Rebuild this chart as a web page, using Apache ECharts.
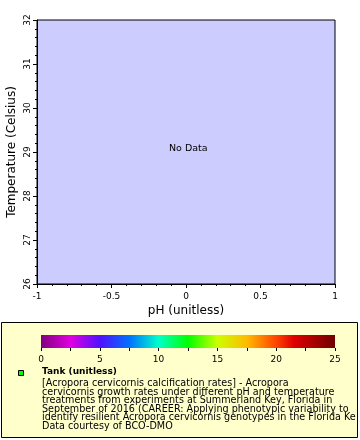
<!DOCTYPE html>
<html>
<head>
<meta charset="utf-8">
<script src="https://cdn.jsdelivr.net/npm/echarts@6/dist/echarts.min.js"></script>
<style>html,body{margin:0;padding:0;background:#fff}#c{width:360px;height:440px}</style>
</head>
<body>
<div id="c"></div>
<script>
// Data (no data points in this chart)
var xRange = [-1, 1];
var yRange = [26, 32];
var pointsX = [];
var pointsY = [];
var colorTicks = [0, 5, 10, 15, 20, 25];
var xTitle = 'pH (unitless)';
var yTitle = 'Temperature (Celsius)';
var noDataText = 'No Data';
var legendTitle = 'Tank (unitless)';
var legendLines = [
  '[Acropora cervicornis calcification rates] - Acropora',
  'cervicornis growth rates under different pH and temperature',
  'treatments from experiments at Summerland Key, Florida in',
  'September of 2016 (CAREER: Applying phenotypic variability to',
  'identify resilient Acropora cervicornis genotypes in the Florida Keys)',
  'Data courtesy of BCO-DMO'
];

var FONT = 'DejaVu Sans';
var chart = echarts.init(document.getElementById('c'), null, {renderer: 'canvas'});

var gradStops = [
  {offset: 0, color: '#800080'},
  {offset: 0.1, color: '#e000e0'},
  {offset: 0.2, color: '#5010ff'},
  {offset: 0.3, color: '#0070ff'},
  {offset: 0.4, color: '#00ffcc'},
  {offset: 0.5, color: '#00ff00'},
  {offset: 0.6, color: '#ccff00'},
  {offset: 0.7, color: '#ffbb00'},
  {offset: 0.8, color: '#ff4400'},
  {offset: 0.86, color: '#e00000'},
  {offset: 1, color: '#700000'}
];

var option = {
  animation: false,
  grid: [
    {left: 37, top: 20, width: 298, height: 264, show: true, backgroundColor: '#ccccff', borderColor: '#000', borderWidth: 1, containLabel: false, outerBoundsMode: 'none'},
    {left: 41, top: 335, width: 294, height: 13, show: false, outerBoundsMode: 'none'}
  ],
  xAxis: [
    {
      gridIndex: 0, type: 'value', min: xRange[0], max: xRange[1], interval: 0.5,
      name: xTitle, nameLocation: 'middle', nameGap: 21, nameMoveOverlap: false,
      nameTextStyle: {fontFamily: FONT, fontSize: 12, color: '#000'},
      axisLine: {show: true, onZero: false, lineStyle: {color: '#000', width: 1}},
      axisTick: {show: true, length: 4, lineStyle: {color: '#000'}},
      minorTick: {show: true, splitNumber: 5, length: 2, lineStyle: {color: '#000'}},
      splitLine: {show: false},
      axisLabel: {fontFamily: FONT, fontSize: 9, color: '#000', margin: 8}
    },
    {
      gridIndex: 1, type: 'value', min: 0, max: 25, interval: 5,
      axisLine: {show: false},
      axisTick: {show: true, length: 3, lineStyle: {color: '#000'}},
      minorTick: {show: true, splitNumber: 2, length: 3, lineStyle: {color: '#000'}},
      splitLine: {show: false},
      axisLabel: {fontFamily: FONT, fontSize: 9, color: '#000', margin: 7,
        customValues: colorTicks}
    }
  ],
  yAxis: [
    {
      gridIndex: 0, type: 'value', min: yRange[0], max: yRange[1], interval: 1,
      name: yTitle, nameLocation: 'middle', nameGap: 19, nameMoveOverlap: false,
      nameTextStyle: {fontFamily: FONT, fontSize: 12, color: '#000'},
      axisLine: {show: true, onZero: false, lineStyle: {color: '#000', width: 1}},
      axisTick: {show: true, length: 4, lineStyle: {color: '#000'}},
      minorTick: {show: true, splitNumber: 5, length: 2, lineStyle: {color: '#000'}},
      splitLine: {show: false},
      axisLabel: {fontFamily: FONT, fontSize: 9, color: '#000', rotate: 90, margin: 5}
    },
    {gridIndex: 1, type: 'value', min: 0, max: 1, show: false}
  ],
  series: [
    {
      type: 'scatter', xAxisIndex: 0, yAxisIndex: 0,
      data: pointsX.map(function (x, i) { return [x, pointsY[i]]; }),
      symbol: 'rect', symbolSize: 6, itemStyle: {color: '#00ff00', borderColor: '#000'}
    },
    {
      type: 'custom', xAxisIndex: 1, yAxisIndex: 1, silent: true,
      data: [[0, 0, 25, 1]],
      renderItem: function (params, api) {
        var p0 = api.coord([api.value(0), api.value(1)]);
        var p1 = api.coord([api.value(2), api.value(3)]);
        return {
          type: 'rect',
          shape: {x: p0[0], y: p1[1], width: p1[0] - p0[0], height: p0[1] - p1[1]},
          style: {fill: new echarts.graphic.LinearGradient(0, 0, 1, 0, gradStops)}
        };
      }
    }
  ],
  graphic: [
    {type: 'rect', z: -10, shape: {x: 1.5, y: 322.5, width: 356, height: 115}, style: {fill: '#ffffcc', stroke: '#000', lineWidth: 1}},
    {type: 'text', z: 10, left: 169, top: 144, style: {text: noDataText, fontFamily: FONT, fontSize: 9.5, fill: '#000'}},
    {type: 'rect', shape: {x: 18.5, y: 370.5, width: 5, height: 5}, style: {fill: '#00ff00', stroke: '#000', lineWidth: 1}},
    {type: 'text', left: 42, top: 367, style: {text: legendTitle, fontFamily: FONT, fontSize: 9, fontWeight: 'bold', fill: '#000'}},
    {type: 'text', left: 42, top: 378, style: {text: legendLines.join('\n'), fontFamily: 'DejaVu Sans Condensed', fontSize: 10.7, lineHeight: 8.5, fill: '#000', width: 315, overflow: 'truncate', ellipsis: ''}}
  ]
};
chart.setOption(option);
</script>
</body>
</html>
